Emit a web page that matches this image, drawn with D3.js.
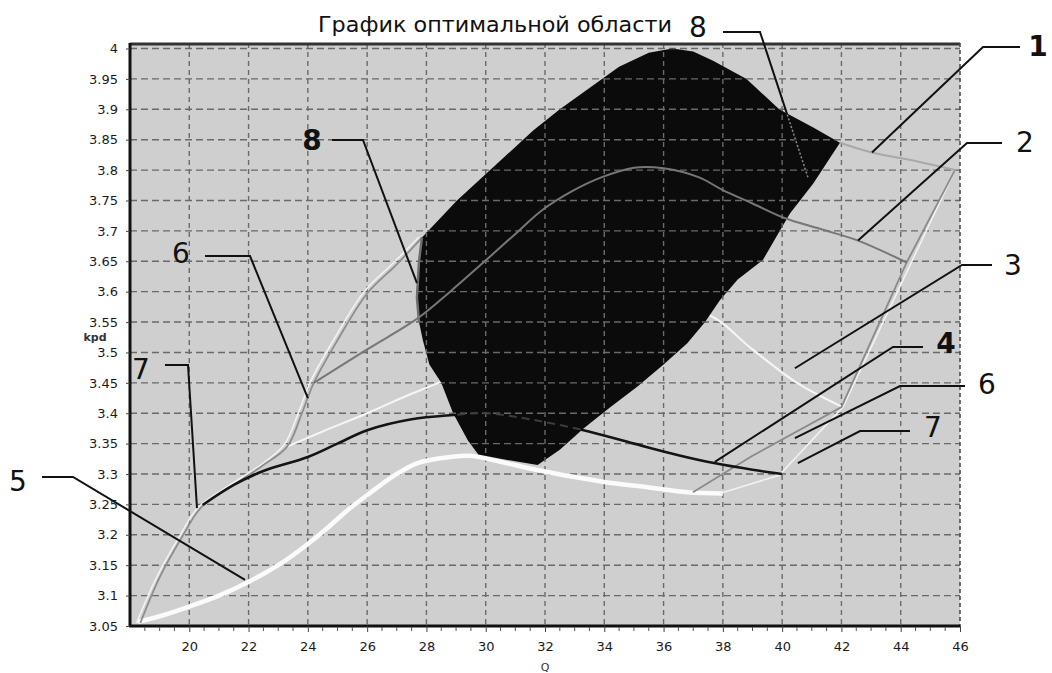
<!DOCTYPE html>
<html>
<head>
<meta charset="utf-8">
<script src="https://cdn.jsdelivr.net/npm/d3@7"></script>
<style>
  body { margin: 0; background: #fff; }
  text { font-family: "DejaVu Sans", sans-serif; }
</style>
</head>
<body>
<div id="chart"></div>
<script>
// axis ticks
const xTicks = [20, 22, 24, 26, 28, 30, 32, 34, 36, 38, 40, 42, 44, 46];
const yTicks = [3.05, 3.1, 3.15, 3.2, 3.25, 3.3, 3.35, 3.4, 3.45, 3.5, 3.55, 3.6,
  3.65, 3.7, 3.75, 3.8, 3.85, 3.9, 3.95, 4];

// curves, [Q, kpd]
const curve1 = [[41.95, 3.845], [43.03, 3.829], [44.5, 3.815], [45.83, 3.8]];
const curve2 = [[24.2, 3.45], [26, 3.505], [27.7, 3.556], [28.8, 3.6], [29.9, 3.647],
  [31, 3.695], [31.9, 3.734], [32.9, 3.765], [33.9, 3.788], [35, 3.804], [36, 3.803],
  [37.2, 3.788], [38, 3.767], [39, 3.745], [40.03, 3.722], [41.3, 3.703],
  [42.56, 3.684], [44.2, 3.648]];
const curve3 = [[23.3, 3.345], [24.5, 3.37], [26, 3.4], [27.3, 3.428], [28.4, 3.45],
  [29.5, 3.475], [31, 3.51], [33, 3.545], [35, 3.565], [36.5, 3.568], [37.6, 3.56],
  [39, 3.505], [40.5, 3.45], [42.05, 3.41]];
const curve4 = [[20.45, 3.249], [21.5, 3.282], [22.5, 3.305], [24, 3.328], [25, 3.35],
  [26, 3.372], [27.5, 3.39], [28.9, 3.397], [30, 3.4], [31.5, 3.39], [33.3, 3.372],
  [35, 3.35], [36.5, 3.331], [37.7, 3.318], [39, 3.307], [40, 3.3]];
const curve5 = [[18.27, 3.057], [19, 3.066], [20, 3.082], [21, 3.1], [21.98, 3.122],
  [23, 3.15], [24, 3.185], [24.7, 3.213], [25.4, 3.243], [26.1, 3.269], [26.9, 3.297],
  [27.7, 3.318], [28.8, 3.328], [29.5, 3.33], [30.5, 3.32], [31.7, 3.307], [33, 3.295],
  [34, 3.287], [35.5, 3.278], [36.8, 3.27], [38, 3.268]];
const curve6Left = [[18.35, 3.055], [19, 3.13], [19.8, 3.2], [20.4, 3.245], [21.5, 3.282],
  [22.5, 3.315], [23.3, 3.345], [23.8, 3.4], [24.2, 3.45], [25, 3.52], [26, 3.597],
  [27, 3.645], [27.85, 3.689]];
const curve6Right = [[36.99, 3.27], [39, 3.33], [42, 3.41], [44.2, 3.648], [45.83, 3.8]];
const curve7Left = [[18.22, 3.055], [18.9, 3.13], [19.7, 3.2], [20.3, 3.245], [21.5, 3.286],
  [22.5, 3.318], [23.2, 3.348], [23.7, 3.403], [24.1, 3.453], [24.9, 3.523],
  [25.9, 3.6], [26.9, 3.648], [27.75, 3.69]];
const curve7Right = [[37.9, 3.268], [39.9, 3.298], [42.05, 3.41], [45.83, 3.8]];
const region8 = [[27.85, 3.689], [27.75, 3.65], [27.68, 3.59], [27.75, 3.55], [27.88, 3.52],
  [28.1, 3.48], [28.5, 3.45], [28.9, 3.4], [29.4, 3.355], [29.75, 3.332], [30.5, 3.325],
  [31.1, 3.32], [31.75, 3.315], [32.5, 3.34], [33.3, 3.375], [34.2, 3.41], [35.1, 3.443],
  [36, 3.48], [36.8, 3.515], [37.4, 3.55], [37.9, 3.586], [38.5, 3.62], [39.35, 3.652],
  [39.8, 3.69], [40.27, 3.729], [41.05, 3.778], [41.95, 3.845], [41.05, 3.87],
  [39.9, 3.9], [38.8, 3.95], [37.67, 3.98], [37, 3.995], [36.3, 4], [35.5, 3.993],
  [34.5, 3.97], [33.5, 3.935], [32.5, 3.9], [31.6, 3.865], [30.04, 3.795], [29.03, 3.75]];

// callout labels: target on the curve in [Q, kpd]
const callouts = [
  { label: '8', target: [40.87, 3.788], start: [723, 32], elbow: [760, 32], pos: [698, 37], bold: false },
  { label: '1', target: [43.03, 3.829], start: [1020, 47], elbow: [983, 47], pos: [1038, 56], bold: true },
  { label: '2', target: [42.56, 3.684], start: [1002, 143], elbow: [967, 143], pos: [1025, 152], bold: false },
  { label: '3', target: [40.43, 3.474], start: [992, 265], elbow: [962, 265], pos: [1013, 275], bold: false },
  { label: '4', target: [37.73, 3.32], start: [923, 347], elbow: [893, 347], pos: [946, 353], bold: true },
  { label: '6', target: [40.43, 3.359], start: [965, 386], elbow: [900, 386], pos: [987, 394], bold: false },
  { label: '7', target: [40.53, 3.318], start: [910, 431], elbow: [860, 431], pos: [933, 437], bold: false },
  { label: '8', target: [27.68, 3.614], start: [332, 140], elbow: [363, 140], pos: [312, 150], bold: true },
  { label: '6', target: [24.0, 3.425], start: [205, 256], elbow: [250, 256], pos: [181, 263], bold: false },
  { label: '7', target: [20.26, 3.244], start: [165, 365], elbow: [188, 365], pos: [141, 379], bold: false },
  { label: '5', target: [21.88, 3.126], start: [42, 477], elbow: [73, 477], pos: [18, 491], bold: false }
];

const width = 1052;
const height = 673;
const plotLeft = 130;
const plotRight = 960;
const plotTop = 43;
const plotBottom = 626;

const x = d3.scaleLinear().domain([18, 46]).range([plotLeft, plotRight]);
const y = d3.scaleLinear().domain([3.05, 4]).range([plotBottom, 48.5]);

const svg = d3.select('#chart').append('svg')
  .attr('width', width)
  .attr('height', height)
  .style('background', '#fff');

const smooth = d3.line().x(d => x(d[0])).y(d => y(d[1])).curve(d3.curveCatmullRom.alpha(0.5));
const straight = d3.line().x(d => x(d[0])).y(d => y(d[1]));
const area8 = d3.line().x(d => x(d[0])).y(d => y(d[1])).curve(d3.curveLinearClosed);

svg.append('defs').append('clipPath').attr('id', 'clip8')
  .append('path').attr('d', area8(region8));

svg.append('rect')
  .attr('x', plotLeft).attr('y', plotTop)
  .attr('width', plotRight - plotLeft).attr('height', plotBottom - plotTop)
  .attr('fill', '#cfcfcf');

const drawGrid = g => {
  g.selectAll('.hg')
    .data(yTicks.filter(v => v > 3.05))
    .enter().append('line')
    .attr('x1', plotLeft).attr('x2', plotRight)
    .attr('y1', d => y(d)).attr('y2', d => y(d))
    .attr('stroke', '#6a6a6a').attr('stroke-width', 1.4)
    .attr('stroke-dasharray', '7,4');
  g.selectAll('.vg')
    .data(xTicks.filter(v => v < 46))
    .enter().append('line')
    .attr('x1', d => x(d)).attr('x2', d => x(d))
    .attr('y1', plotTop).attr('y2', plotBottom)
    .attr('stroke', '#6a6a6a').attr('stroke-width', 1.4)
    .attr('stroke-dasharray', '5,4');
};

drawGrid(svg.append('g'));

// curves below the optimal region
const under = svg.append('g').attr('fill', 'none');
under.append('path').attr('d', smooth(curve5)).attr('stroke', '#fbfbfb').attr('stroke-width', 4.5);
under.append('path').attr('d', smooth(curve3)).attr('stroke', '#f6f6f6').attr('stroke-width', 2);
under.append('path').attr('d', smooth(curve7Left)).attr('stroke', '#f2f2f2').attr('stroke-width', 1.6);
under.append('path').attr('d', smooth(curve6Left)).attr('stroke', '#8e8e8e').attr('stroke-width', 1.8);
under.append('path').attr('d', straight(curve7Right)).attr('stroke', '#f2f2f2').attr('stroke-width', 1.6);
under.append('path').attr('d', straight(curve6Right)).attr('stroke', '#8a8a8a').attr('stroke-width', 1.8);
under.append('path').attr('d', smooth(curve1)).attr('stroke', '#a9a9a9').attr('stroke-width', 2);
under.append('path').attr('d', smooth(curve4)).attr('stroke', '#141414').attr('stroke-width', 2.6);

// optimal region
svg.append('path')
  .attr('d', area8(region8))
  .attr('fill', '#0b0b0b');

drawGrid(svg.append('g').attr('clip-path', 'url(#clip8)'));

svg.append('path')
  .attr('d', smooth(curve4))
  .attr('clip-path', 'url(#clip8)')
  .attr('fill', 'none')
  .attr('stroke', '#3c3c3c').attr('stroke-width', 2)
  .attr('stroke-dasharray', '8,5');

svg.append('path')
  .attr('d', straight(region8.slice(0, 4)))
  .attr('fill', 'none')
  .attr('stroke', '#6e6e6e').attr('stroke-width', 2.5);

svg.append('path')
  .attr('d', smooth(curve2))
  .attr('fill', 'none')
  .attr('stroke', '#777').attr('stroke-width', 2);

// frame and axes
svg.append('line')
  .attr('x1', plotLeft).attr('x2', plotRight).attr('y1', plotTop + 1).attr('y2', plotTop + 1)
  .attr('stroke', '#333').attr('stroke-width', 3);
svg.append('line')
  .attr('x1', plotRight).attr('x2', plotRight).attr('y1', plotTop).attr('y2', plotBottom)
  .attr('stroke', '#444').attr('stroke-width', 1.5).attr('stroke-dasharray', '4,3');

const xAxis = d3.axisBottom(x)
  .tickValues(xTicks)
  .tickSize(6)
  .tickPadding(10)
  .tickFormat(d => d);
const gx = svg.append('g')
  .attr('transform', `translate(0,${plotBottom})`)
  .call(xAxis);
gx.select('.domain').attr('stroke', '#111').attr('stroke-width', 3)
  .attr('d', `M${plotLeft - 1},0H${plotRight}`);
gx.selectAll('.tick line').attr('stroke', '#444');
gx.selectAll('.tick text').attr('font-size', 13).attr('fill', '#1a1a1a')
  .attr('font-family', 'DejaVu Sans');

const minor = svg.append('g');
minor.selectAll('line')
  .data(d3.range(18.5, 46, 0.5).filter(v => v % 2 !== 0))
  .enter().append('line')
  .attr('x1', d => x(d)).attr('x2', d => x(d))
  .attr('y1', plotBottom + 1).attr('y2', plotBottom + 5)
  .attr('stroke', '#555');

const yAxis = d3.axisLeft(y)
  .tickValues(yTicks)
  .tickSize(4)
  .tickPadding(8)
  .tickFormat(d => String(d));
const gy = svg.append('g')
  .attr('transform', `translate(${plotLeft},0)`)
  .call(yAxis);
gy.select('.domain').attr('stroke', '#111').attr('stroke-width', 3)
  .attr('d', `M0,${plotTop}V${plotBottom + 1}`);
gy.selectAll('.tick line').attr('stroke', '#444');
gy.selectAll('.tick text').attr('font-size', 13).attr('fill', '#1a1a1a')
  .attr('font-family', 'DejaVu Sans');

svg.append('text')
  .attr('x', (plotLeft + plotRight) / 2).attr('y', 671)
  .attr('text-anchor', 'middle')
  .attr('font-size', 11).attr('fill', '#333')
  .text('Q');

svg.append('text')
  .attr('x', 95).attr('y', 341)
  .attr('text-anchor', 'middle')
  .attr('font-size', 11).attr('font-weight', 'bold').attr('fill', '#333')
  .text('kpd');

svg.append('text')
  .attr('x', 318).attr('y', 32)
  .attr('font-family', '"Open Sans", sans-serif')
  .attr('font-size', 22).attr('fill', '#111')
  .attr('textLength', 354).attr('lengthAdjust', 'spacingAndGlyphs')
  .text('График оптимальной области');

// callouts
const leader = c => `M${c.start[0]},${c.start[1]}L${c.elbow[0]},${c.elbow[1]}L${x(c.target[0])},${y(c.target[1])}`;

const notes = svg.append('g');
notes.selectAll('path.leader')
  .data(callouts)
  .enter().append('path')
  .attr('class', 'leader')
  .attr('d', leader)
  .attr('fill', 'none')
  .attr('stroke', '#111').attr('stroke-width', 2);

notes.append('g').attr('clip-path', 'url(#clip8)')
  .selectAll('path')
  .data(callouts)
  .enter().append('path')
  .attr('d', leader)
  .attr('fill', 'none')
  .attr('stroke', '#8a8a8a').attr('stroke-width', 1.5)
  .attr('stroke-dasharray', '2,2');

notes.selectAll('text')
  .data(callouts)
  .enter().append('text')
  .attr('x', d => d.pos[0]).attr('y', d => d.pos[1])
  .attr('text-anchor', 'middle')
  .attr('font-family', '"Liberation Serif", serif')
  .attr('font-size', 28)
  .attr('font-weight', d => (d.bold ? 'bold' : 'normal'))
  .attr('fill', '#111')
  .text(d => d.label);
</script>
</body>
</html>
